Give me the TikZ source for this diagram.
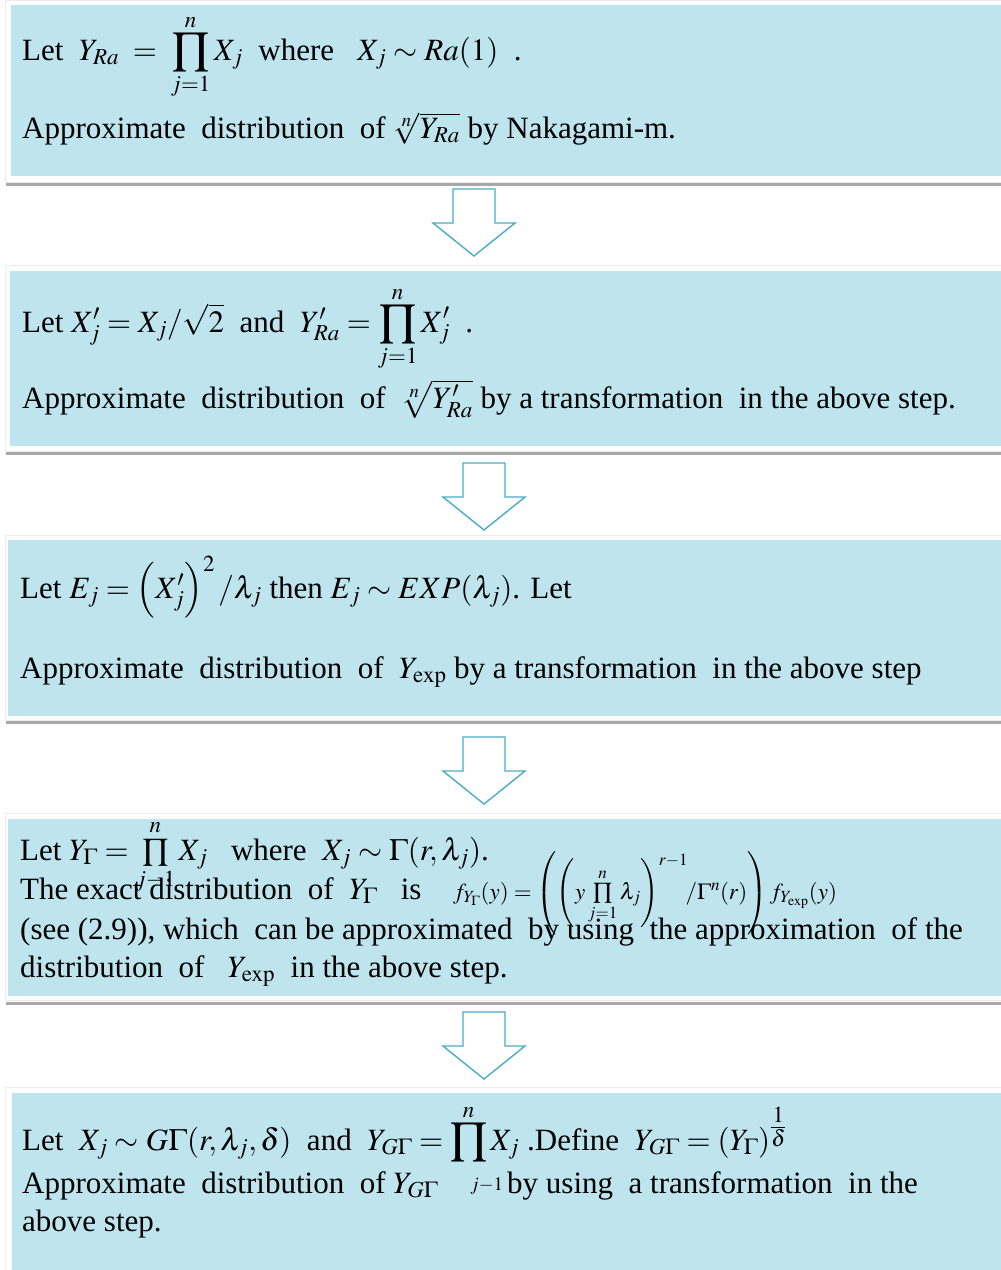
\documentclass[tikz,border=0pt]{standalone}
\usepackage{mathptmx}
\usepackage{fontspec}
\setmainfont{Liberation Serif}
\definecolor{boxfill}{HTML}{BEE4EE}
\definecolor{arrowc}{HTML}{4BACC6}
\definecolor{shadowc}{HTML}{A8A8A8}
\begin{document}
\begin{tikzpicture}[x=1pt,y=-1pt,
  txt/.style={anchor=base west, inner sep=0pt, font=\fontsize{31}{36}\selectfont},
  small/.style={anchor=base west, inner sep=0pt, font=\fontsize{23}{27}\selectfont},
  tiny/.style={anchor=base west, inner sep=0pt, font=\fontsize{19}{22}\selectfont},
  frame/.style={draw=gray!15, fill=white, line width=0.8pt},
  boxbg/.style={fill=boxfill, draw=none},
  shadowline/.style={draw=shadowc, line width=3pt},
  darrow/.pic={\draw[draw=arrowc, fill=white, line width=1.4pt, line join=miter]
     (-21,0) -- (21,0) -- (21,34) -- (41,34) -- (0,67) -- (-41,34) -- (-21,34) -- cycle;}
  ]
\useasboundingbox (0,0) rectangle (1001,1270);
\fill[white] (0,0) rectangle (1001,1270);
% boxes
\draw[frame] (5,0) rectangle (1003,182);
\fill[boxbg] (11,5) rectangle (1001,176);
\draw[shadowline] (6,184) -- (1001,184);
\node[coordinate] (b1) at (506,90) {};

\draw[frame] (5,265) rectangle (1003,451);
\fill[boxbg] (10,271) rectangle (1001,446);
\draw[shadowline] (6,453) -- (1001,453);
\node[coordinate] (b2) at (506,358) {};

\draw[frame] (5,535) rectangle (1003,720);
\fill[boxbg] (8,540) rectangle (1001,716);
\draw[shadowline] (6,722) -- (1001,722);
\node[coordinate] (b3) at (506,628) {};

\draw[frame] (5,813) rectangle (1003,1000);
\fill[boxbg] (8,819) rectangle (1001,996);
\draw[shadowline] (6,1003) -- (1001,1003);
\node[coordinate] (b4) at (506,908) {};

\draw[frame] (5,1087) rectangle (1003,1272);
\fill[boxbg] (12,1093) rectangle (1001,1270);
\node[coordinate] (b5) at (506,1180) {};

% arrows
\coordinate (a1) at (474,189);
\coordinate (a2) at (484,463);
\coordinate (a3) at (484,737);
\coordinate (a4) at (484,1012);
\pic at (a1) {darrow};
\pic at (a2) {darrow};
\pic at (a3) {darrow};
\pic at (a4) {darrow};

% box 1
\node[txt] (t11) at (22,60) {Let \ $Y_{Ra}\;=\;\displaystyle\prod_{j=1}^{n}X_j$ \ where \ \ $X_j\sim Ra(1)$ \ .};
\node[txt] (t12) at (22,138) {Approximate \ distribution \ of $\sqrt[n]{Y_{Ra}}$ by Nakagami-m.};
% box 2
\node[txt] (t21) at (22,332) {Let $X'_j=X_j/\sqrt{2}$ \ and \ $Y'_{Ra}=\displaystyle\prod_{j=1}^{n}X'_j$ \ .};
\node[txt] (t22) at (22,408) {Approximate \ distribution \ of \ $\sqrt[n]{Y'_{Ra}}$ by a transformation \ in the above step.};
% box 3
\node[txt] (t31) at (20,598) {Let $E_j=\left(X'_j\right)^2/\lambda_j$ then $E_j\sim EXP(\lambda_j)$. Let};
\node[txt] (t32) at (20,678) {Approximate \ distribution \ of \ $Y_{\exp}$ by a transformation \ in the above step};
% box 4
\node[txt] (t41) at (20,860) {Let $Y_\Gamma=\prod\limits_{j-1}^{n}X_j$ \ \ where \ $X_j\sim\Gamma(r,\lambda_j)$.};
\node[txt] (t42) at (20,899) {The exact distribution \ of \ $Y_\Gamma$ \ \ is};
\node[small] (t42f) at (453,899) {$f_{Y_\Gamma}(y)=\left(\left(y\prod\limits_{j=1}^{n}\lambda_j\right)^{r-1}\!\!/\Gamma^n(r)\right)f_{Y_{\exp}}(y)$};
\node[txt] (t43) at (20,939) {(see (2.9)), which \ can be approximated \ by using \ the approximation \ of the};
\node[txt] (t44) at (20,977) {distribution \ of \ \ $Y_{\exp}$ \ in the above step.};
% box 5
\node[txt] (t51) at (22,1150) {Let \ $X_j\sim G\Gamma(r,\lambda_j,\delta)$ \ and \ $Y_{G\Gamma}=\displaystyle\prod^{n}X_j$ .Define \ $Y_{G\Gamma}=(Y_\Gamma)^{\textstyle\frac{1}{\delta}}$};
\node[txt] (t52) at (22,1193) {Approximate \ distribution \ of $Y_{G\Gamma}$};
\node[tiny] (t52b) at (470,1190) {$j{-}1$};
\node[txt] (t52c) at (507,1193) {by using \ a transformation \ in the};
\node[txt] (t53) at (22,1231) {above step.};
\end{tikzpicture}
\end{document}
